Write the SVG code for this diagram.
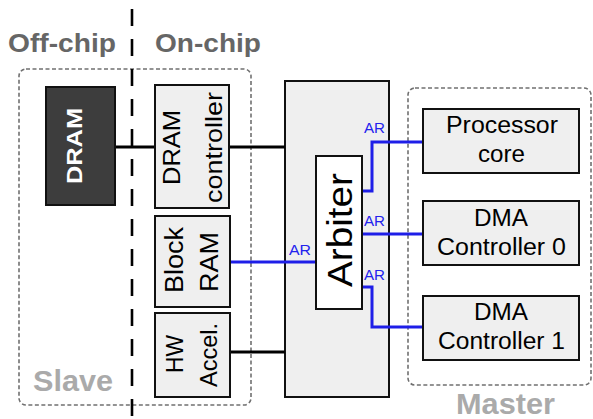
<svg xmlns="http://www.w3.org/2000/svg" width="593" height="419" viewBox="0 0 593 419">
<style>
.grp{fill:none;stroke:#707070;stroke-width:1.6;stroke-dasharray:4 2.5}
.box{fill:#efefef;stroke:#111;stroke-width:2}
.t{font-family:"Liberation Sans",Arial,sans-serif;fill:#000}
.hdr{font-family:"Liberation Sans",Arial,sans-serif;font-weight:bold;fill:#666;font-size:26px}
.role{font-family:"Liberation Sans",Arial,sans-serif;font-weight:bold;fill:#aaa;font-size:29px}
.ar{font-family:"Liberation Sans",Arial,sans-serif;fill:#2222ee;font-size:14px}
.blk{fill:none;stroke:#000;stroke-width:3}
.blu{fill:none;stroke:#1e1ee8;stroke-width:3}
</style>
<rect width="593" height="419" fill="#fff"/>
<g id="groups">
<rect class="grp" x="19" y="69" width="232" height="336" rx="7"/>
<rect class="grp" x="408" y="88" width="183" height="297" rx="7"/>
</g>
<g id="labels">
<text class="hdr" x="8" y="52" textLength="108" lengthAdjust="spacingAndGlyphs">Off-chip</text>
<text class="hdr" x="155" y="52" textLength="106" lengthAdjust="spacingAndGlyphs">On-chip</text>
<text class="role" x="33" y="391" textLength="80" lengthAdjust="spacingAndGlyphs">Slave</text>
<text class="role" x="456" y="414" textLength="99" lengthAdjust="spacingAndGlyphs">Master</text>
</g>
<line x1="132" y1="9" x2="132" y2="419" stroke="#000" stroke-width="2.6" stroke-dasharray="17 13"/>
<g id="interconnect">
<rect class="box" x="285" y="81" width="104" height="316"/>
</g>
<g id="connectors">
<line class="blk" x1="115" y1="147" x2="155" y2="147"/>
<line class="blk" x1="229" y1="147" x2="285" y2="147"/>
<line class="blk" x1="230" y1="352" x2="285" y2="352"/>
<line class="blu" x1="230" y1="262" x2="316" y2="262"/>
<polyline class="blu" points="362,191 372,191 372,142 423,142"/>
<line class="blu" x1="362" y1="234" x2="423" y2="234"/>
<polyline class="blu" points="362,287 372,287 372,327 423,327"/>
<text class="ar" x="289" y="255" textLength="22" lengthAdjust="spacingAndGlyphs">AR</text>
<text class="ar" x="364" y="133" textLength="21" lengthAdjust="spacingAndGlyphs">AR</text>
<text class="ar" x="364" y="226" textLength="21" lengthAdjust="spacingAndGlyphs">AR</text>
<text class="ar" x="364" y="280" textLength="21" lengthAdjust="spacingAndGlyphs">AR</text>
</g>
<g id="dram">
<rect x="46" y="87" width="69" height="118" fill="#3d3d3d" stroke="#111" stroke-width="2"/>
<text transform="translate(82,146) rotate(-90)" class="t" style="fill:#fff;font-weight:bold;font-size:22px" text-anchor="middle" textLength="76" lengthAdjust="spacingAndGlyphs">DRAM</text>
</g>
<g id="dram-controller">
<rect class="box" x="155" y="85" width="74" height="123"/>
<text transform="translate(180,147.5) rotate(-90)" class="t" style="font-size:24px" text-anchor="middle" textLength="75" lengthAdjust="spacingAndGlyphs">DRAM</text>
<text transform="translate(222,147.5) rotate(-90)" class="t" style="font-size:24px" text-anchor="middle" textLength="111" lengthAdjust="spacingAndGlyphs">controller</text>
</g>
<g id="block-ram">
<rect class="box" x="155" y="216" width="75" height="91"/>
<text transform="translate(183,260) rotate(-90)" class="t" style="font-size:25px" text-anchor="middle" textLength="66" lengthAdjust="spacingAndGlyphs">Block</text>
<text transform="translate(218,262) rotate(-90)" class="t" style="font-size:25px" text-anchor="middle" textLength="60" lengthAdjust="spacingAndGlyphs">RAM</text>
</g>
<g id="hw-accel">
<rect class="box" x="155" y="313" width="75" height="84"/>
<text transform="translate(183,354) rotate(-90)" class="t" style="font-size:24px" text-anchor="middle" textLength="38" lengthAdjust="spacingAndGlyphs">HW</text>
<text transform="translate(217,355) rotate(-90)" class="t" style="font-size:24px" text-anchor="middle" textLength="64" lengthAdjust="spacingAndGlyphs">Accel.</text>
</g>
<g id="arbiter">
<rect x="316" y="156" width="46" height="153" fill="#fff" stroke="#111" stroke-width="2"/>
<text transform="translate(352,230) rotate(-90)" class="t" style="font-size:35px" text-anchor="middle" textLength="114" lengthAdjust="spacingAndGlyphs">Arbiter</text>
</g>
<g id="processor-core">
<rect class="box" x="423" y="109" width="156" height="64"/>
<text class="t" style="font-size:23px" x="502" y="133" text-anchor="middle" textLength="112" lengthAdjust="spacingAndGlyphs">Processor</text>
<text class="t" style="font-size:23px" x="501.5" y="162" text-anchor="middle" textLength="47" lengthAdjust="spacingAndGlyphs">core</text>
</g>
<g id="dma0">
<rect class="box" x="423" y="201" width="156" height="64"/>
<text class="t" style="font-size:23px" x="501" y="226" text-anchor="middle" textLength="54" lengthAdjust="spacingAndGlyphs">DMA</text>
<text class="t" style="font-size:23px" x="501.5" y="255" text-anchor="middle" textLength="129" lengthAdjust="spacingAndGlyphs">Controller 0</text>
</g>
<g id="dma1">
<rect class="box" x="423" y="296" width="156" height="64"/>
<text class="t" style="font-size:23px" x="501" y="320" text-anchor="middle" textLength="54" lengthAdjust="spacingAndGlyphs">DMA</text>
<text class="t" style="font-size:23px" x="501.5" y="349" text-anchor="middle" textLength="127" lengthAdjust="spacingAndGlyphs">Controller 1</text>
</g>
</svg>
